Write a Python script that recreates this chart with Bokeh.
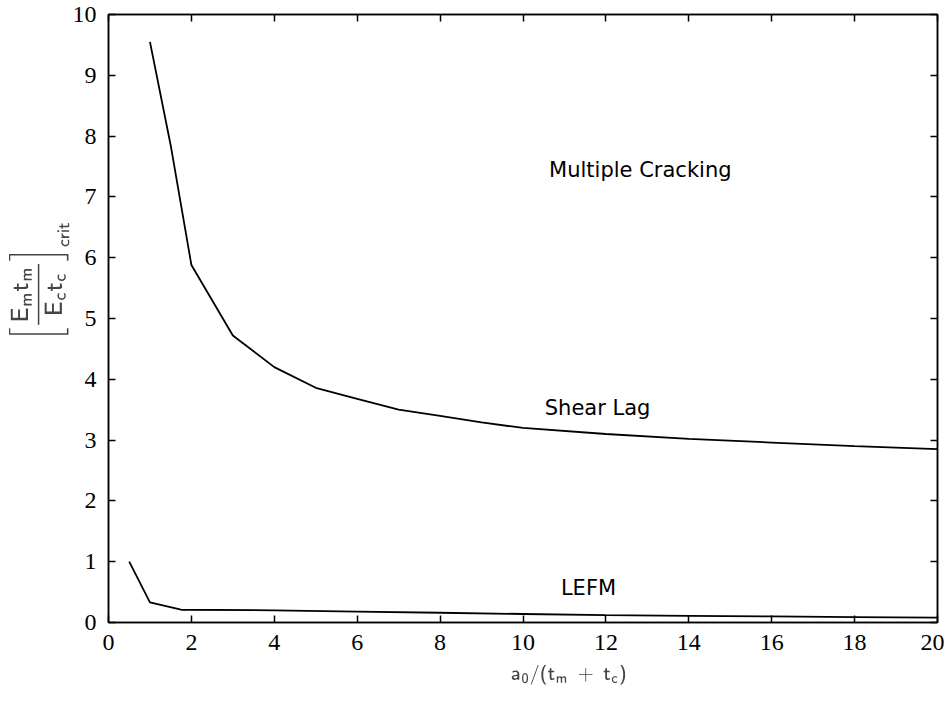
from bokeh.plotting import figure
from bokeh.models import LinearAxis, Range1d, Label, FixedTicker
from bokeh.embed import file_html
from bokeh.resources import INLINE

# Data
shear_x = [1, 1.5, 2, 3, 4, 5, 6, 7, 8, 9, 10, 12, 14, 16, 18, 20]
shear_y = [9.55, 7.85, 5.88, 4.72, 4.2, 3.86, 3.68, 3.5, 3.4, 3.29, 3.2, 3.1, 3.02, 2.96, 2.9, 2.85]
lefm_x = [0.5, 1, 1.75, 4, 6, 8, 10, 12, 14, 16, 18, 20]
lefm_y = [1.0, 0.33, 0.21, 0.2, 0.18, 0.16, 0.14, 0.12, 0.11, 0.1, 0.09, 0.08]
x_ticks = [0, 2, 4, 6, 8, 10, 12, 14, 16, 18, 20]
y_ticks = [0, 1, 2, 3, 4, 5, 6, 7, 8, 9, 10]
labels = ["Multiple Cracking", "Shear Lag", "LEFM"]
label_x = [12.83, 11.8, 11.58]
label_y = [7.45, 3.52, 0.56]

p = figure(frame_width=829, frame_height=608,
           x_range=Range1d(0, 20), y_range=Range1d(0, 10),
           output_backend="svg", toolbar_location=None,
           min_border_left=108, min_border_top=14, min_border_right=7, min_border_bottom=70,
           background_fill_color="white", border_fill_color="white")
p.grid.visible = False
p.outline_line_color = "black"
p.outline_line_width = 1.5

for ax, ticks in ((p.xaxis[0], x_ticks), (p.yaxis[0], y_ticks)):
    ax.ticker = FixedTicker(ticks=ticks)
    ax.major_tick_in = 7
    ax.major_tick_out = 0
    ax.minor_tick_line_color = None
    ax.axis_line_color = "black"
    ax.axis_line_width = 1.5
    ax.major_tick_line_width = 1.5
    ax.major_label_text_font = "Liberation Serif"
    ax.major_label_text_font_size = "24px"
    ax.major_label_text_color = "black"
    ax.major_label_standoff = 12

p.xaxis.axis_label = r"$$\mathsf{\qquad\qquad\enspace a_0/(t_m\ +\ t_c)}$$"
p.xaxis.axis_label_text_font_size = "17px"
p.xaxis.axis_label_standoff = 12
p.yaxis.axis_label = r"$$\mathsf{\qquad\quad\left[\frac{E_m t_m}{E_c t_c}\right]_{crit}}$$"
p.yaxis.axis_label_text_font_size = "20px"
p.yaxis.axis_label_standoff = 0

for loc, ticks in (("above", x_ticks), ("right", y_ticks)):
    ax = LinearAxis(ticker=FixedTicker(ticks=ticks))
    ax.major_tick_in = 7
    ax.major_tick_out = 0
    ax.minor_tick_line_color = None
    ax.major_label_overrides = {t: "" for t in ticks}
    ax.major_label_text_font_size = "1px"
    ax.major_label_standoff = 0
    ax.axis_line_width = 1.5
    ax.major_tick_line_width = 1.5
    p.add_layout(ax, loc)

p.line(shear_x, shear_y, line_color="black", line_width=1.8)
p.line(lefm_x, lefm_y, line_color="black", line_width=1.8)

for t, lx, ly in zip(labels, label_x, label_y):
    p.add_layout(Label(x=lx, y=ly, text=t, text_align="center", text_baseline="middle",
                       text_font="DejaVu Sans", text_font_size="21px",
                       text_color="black"))

open("out.html", "w").write(file_html(p, INLINE))
